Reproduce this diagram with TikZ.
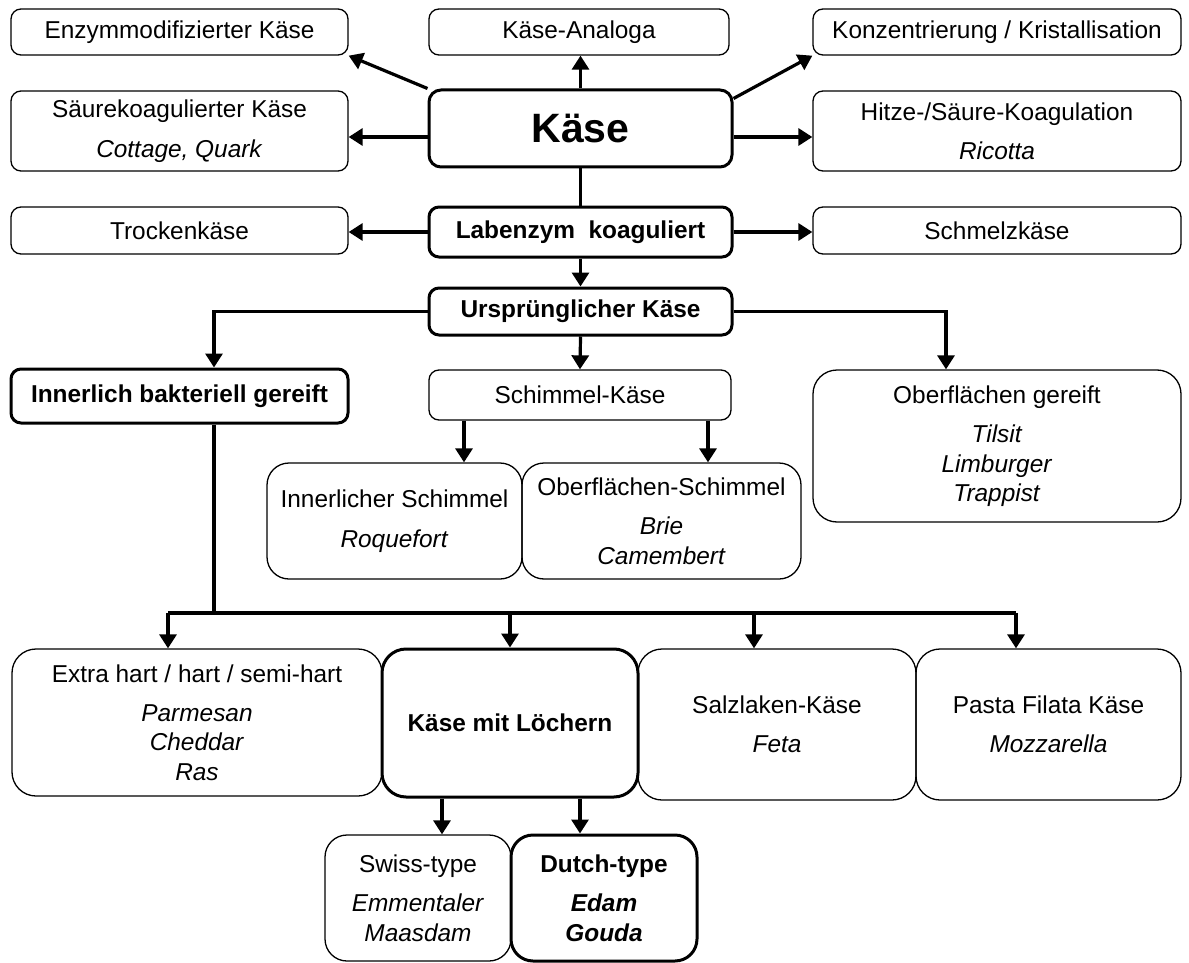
\documentclass[tikz,border=0pt]{standalone}
\usepackage{fontspec}
\setmainfont{Liberation Sans}
\usetikzlibrary{arrows.meta, calc, positioning}

\tikzset{
  box/.style={draw, line width=0.65pt, rounded corners=#1, align=center, inner sep=2pt,
    font=\fontsize{12.2}{14.7}\selectfont},
  box/.default=5pt,
  boldbox/.style={box=#1, line width=1.5pt, font=\fontsize{12.2}{14.7}\selectfont\bfseries},
  boldbox/.default=5pt,
  arr/.style={line width=1.6pt, -{Triangle[width=8.5pt,length=7pt]}},
  conn/.style={line width=1.6pt},
}

\begin{document}
\begin{tikzpicture}[x=0.5pt, y=-0.5pt]
  \useasboundingbox (0,0) rectangle (1189,963);
  % Top rows
  \node[box, minimum width=168.5pt, minimum height=23pt] (enzym) at (179.5,32) {Enzymmodifizierter Käse};
  \node[box, minimum width=150pt, minimum height=23pt] (analoga) at (579,32) {Käse-Analoga};
  \node[box, minimum width=184pt, minimum height=23pt] (konz) at (997,32) {Konzentrierung / Kristallisation};
  \node[box, minimum width=168.5pt, minimum height=40pt] (saeure) at (179.5,131) {Säurekoagulierter Käse\\[5pt]\textit{Cottage, Quark}};
  \node[boldbox=6pt, minimum width=151.5pt, minimum height=38.5pt, font=\fontsize{20.5}{24}\selectfont\bfseries] (kaese) at (580.5,128.5) {Käse};
  \node[box, minimum width=184pt, minimum height=40pt] (hitze) at (997,131) {Hitze-/Säure-Koagulation\\[5pt]\textit{Ricotta}};
  \node[box, minimum width=168.5pt, minimum height=23.5pt] (trocken) at (179.5,230.5) {Trockenkäse};
  \node[boldbox, minimum width=151.5pt, minimum height=25pt] (lab) at (580.5,232) {Labenzym\ \ koaguliert};
  \node[box, minimum width=184pt, minimum height=23.5pt] (schmelz) at (997,230.5) {Schmelzkäse};
  % Ripening
  \node[boldbox, minimum width=151.5pt, minimum height=23.5pt] (urspr) at (580.5,311.5) {Ursprünglicher Käse};
  \node[boldbox, minimum width=168.5pt, minimum height=27pt] (innerlich) at (179.5,396) {Innerlich bakteriell gereift};
  \node[box, minimum width=151pt, minimum height=25pt] (schimmel) at (580,395) {Schimmel-Käse};
  \node[box=12pt, minimum width=184pt, minimum height=76pt] (oberfl) at (997,446) {Oberflächen gereift\\[5pt]\textit{Tilsit}\\\textit{Limburger}\\\textit{Trappist}};
  \node[box=11pt, minimum width=127.5pt, minimum height=58pt] (innS) at (394.5,521) {Innerlicher Schimmel\\[5pt]\textit{Roquefort}};
  \node[box=11pt, minimum width=139.5pt, minimum height=58pt] (oberS) at (661.5,521) {Oberflächen-Schimmel\\[5pt]\textit{Brie}\\\textit{Camembert}};
  % Bacterial ripened
  \node[box=12pt, minimum width=185pt, minimum height=73.5pt] (extra) at (197,722.5) {Extra hart / hart / semi-hart\\[5pt]\textit{Parmesan}\\\textit{Cheddar}\\\textit{Ras}};
  \node[boldbox=12pt, minimum width=128pt, minimum height=74pt] (loecher) at (510,723) {Käse mit Löchern};
  \node[box=12pt, minimum width=139pt, minimum height=75.5pt] (salz) at (777,724.5) {Salzlaken-Käse\\[5pt]\textit{Feta}};
  \node[box=12pt, minimum width=132.5pt, minimum height=75.5pt] (pasta) at (1048.5,724.5) {Pasta Filata Käse\\[5pt]\textit{Mozzarella}};
  \node[box=11pt, minimum width=93pt, minimum height=63pt] (swiss) at (418,898) {Swiss-type\\[5pt]\textit{Emmentaler}\\\textit{Maasdam}};
  \node[boldbox=11pt, minimum width=93pt, minimum height=63pt] (dutch) at (604,898) {Dutch-type\\[5pt]\textit{Edam}\\\textit{Gouda}};

  % Arrows from Kaese
  \draw[arr] (kaese.north west) -- (enzym.south east);
  \draw[arr] (kaese.north) -- (kaese.north |- analoga.south);
  \draw[arr] ([yshift=-5pt]kaese.north east) -- (konz.south west);
  \draw[arr] ([yshift=-4.25pt]kaese.west) -- ([yshift=-4.25pt]kaese.west -| saeure.east);
  \draw[arr] ([yshift=-4.25pt]kaese.east) -- ([yshift=-4.25pt]kaese.east -| hitze.west);
  \draw[conn] (kaese.south) -- (lab.north);
  \draw[arr] (lab.west) -- (lab.west -| trocken.east);
  \draw[arr] (lab.east) -- (lab.east -| schmelz.west);
  \draw[arr] (lab.south) -- (urspr.north);
  % Branches of Urspruenglicher Kaese
  \draw[arr] (urspr.west) -| ([xshift=17.25pt]innerlich.north);
  \draw[arr] (urspr.east) -| ([xshift=-25.5pt]oberfl.north);
  \draw[arr] (urspr.south) -- (schimmel.north);
  \draw[arr] ([xshift=-58pt]schimmel.south) -- ([xshift=-58pt]schimmel.south |- innS.north);
  \draw[arr] ([xshift=64pt]schimmel.south) -- ([xshift=64pt]schimmel.south |- oberS.north);
  % Bus line
  \coordinate (bus) at (214,613);
  \coordinate (busL) at (168,613);
  \coordinate (busR) at (1016,613);
  \draw[conn] ([xshift=17.25pt]innerlich.south) -- (bus);
  \draw[conn] (busL) -- (busR);
  \foreach \x/\t in {168/extra, 510/loecher, 754/salz, 1016/pasta}
    \draw[arr] (\x,613) -- (\x,613 |- \t.north);
  % Holes
  \draw[arr] ([xshift=-34pt]loecher.south) -- ([xshift=-34pt]loecher.south |- swiss.north);
  \draw[arr] ([xshift=35pt]loecher.south) -- ([xshift=35pt]loecher.south |- dutch.north);
\end{tikzpicture}
\end{document}
